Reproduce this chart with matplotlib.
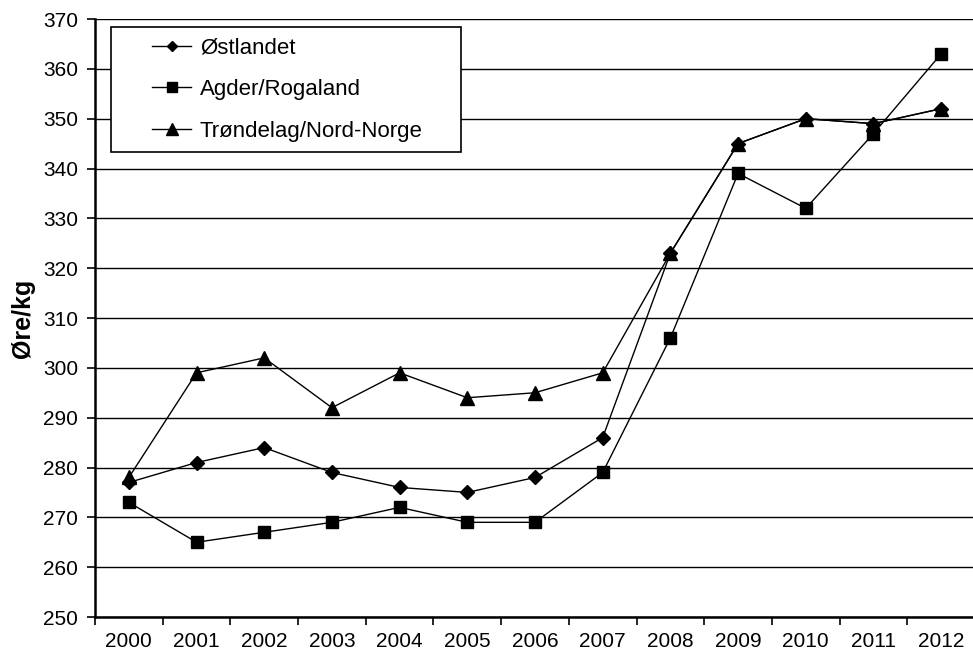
import matplotlib.pyplot as plt
from matplotlib.legend_handler import HandlerLine2D
import numpy as np

plt.rcParams['font.family'] = ['Liberation Sans', 'DejaVu Sans']

years = ['2000', '2001', '2002', '2003', '2004', '2005', '2006',
         '2007', '2008', '2009', '2010', '2011', '2012']
ostlandet = [277, 281, 284, 279, 276, 275, 278, 286, 323, 345, 350, 349, 352]
agder_rogaland = [273, 265, 267, 269, 272, 269, 269, 279, 306, 339, 332, 347, 363]
trondelag_nord = [278, 299, 302, 292, 299, 294, 295, 299, 323, 345, 350, 349, 352]

fig = plt.figure(figsize=(9.73, 6.55), dpi=100)
ax = fig.add_axes([95 / 973, 38 / 655, 880 / 973, 598 / 655])

x = np.arange(len(years))
ax.plot(x, ostlandet, color='black', lw=1, marker='D', ms=7, label='Østlandet')
ax.plot(x, agder_rogaland, color='black', lw=1, marker='s', ms=9, label='Agder/Rogaland')
ax.plot(x, trondelag_nord, color='black', lw=1, marker='^', ms=10, label='Trøndelag/Nord-Norge')

ax.set_xlim(-0.5, len(years) - 0.5)
ax.set_ylim(250, 370)
ax.set_yticks(np.arange(250, 371, 10))
ax.yaxis.grid(True, color='black', lw=1)
ax.set_axisbelow(True)

ax.set_xticks(x)
ax.set_xticklabels(years)
ax.set_xticks(np.arange(-0.5, len(years), 1), minor=True)
ax.tick_params(axis='x', which='major', length=0, pad=11, labelsize=15)
ax.tick_params(axis='x', which='minor', length=6, width=1.2, direction='out')
ax.tick_params(axis='y', length=6, width=1.2, direction='out', labelsize=15, pad=6)

for s in ['top', 'right']:
    ax.spines[s].set_visible(False)
ax.spines['left'].set_linewidth(1.8)
ax.spines['bottom'].set_linewidth(1.8)

ax.set_ylabel('Øre/kg', fontsize=18, fontweight='bold', labelpad=6)

# handle drawn a bit right of the frame edge, like the original legend
hmap = {line: HandlerLine2D(xpad=1.37) for line in ax.get_lines()}
leg = ax.legend(loc='upper left', bbox_to_anchor=(16 / 880, 0.9866, 350 / 880, 0.0),
                mode='expand', fontsize=16, frameon=True, fancybox=False,
                framealpha=1, edgecolor='black', handlelength=3.12,
                handletextpad=0.4, labelspacing=0.92, borderpad=0.48,
                markerscale=0.8, borderaxespad=0, handler_map=hmap)
leg.get_frame().set_linewidth(1.2)

plt.savefig('out.png', dpi=100)
